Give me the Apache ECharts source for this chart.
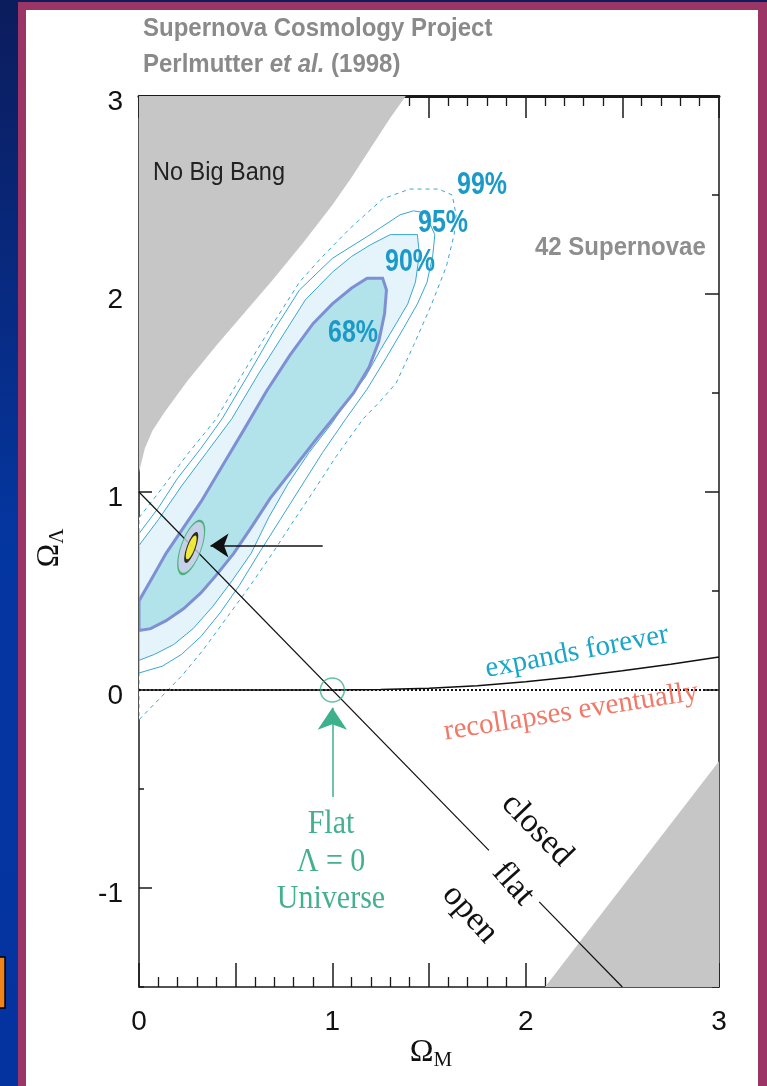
<!DOCTYPE html>
<html><head><meta charset="utf-8">
<script src="https://cdn.jsdelivr.net/npm/echarts@6/dist/echarts.min.js"></script>
<style>html,body{margin:0;padding:0;background:#0a2a8a;overflow:hidden}#c{width:767px;height:1086px}</style>
</head><body><div id="c"></div>
<script>
// ---- data ----
const xLabelTicks = [0, 1, 2, 3];
const yLabelTicks = [-1, 0, 1, 2, 3];
const yAllTicks = [-1.5, -1, -0.5, 0, 0.5, 1, 1.5, 2, 2.5, 3];

const noBigBang = [[0,3],[0,1.10],[0.03,1.22],[0.07,1.31],[0.13,1.40],[0.25,1.56],[0.40,1.74],[0.55,1.91],[0.69,2.07],[0.85,2.26],[1.0,2.45],[1.1,2.59],[1.2,2.74],[1.3,2.89],[1.38,3.0]];
const noTurnaround = [[2.10,-1.5],[2.4,-1.12],[2.7,-0.74],[3.0,-0.36],[3.0,-1.5]];

const contour99 = [[0,0.87],[0.12,1.02],[0.25,1.19],[0.40,1.37],[0.55,1.62],[0.70,1.86],[0.83,2.06],[0.94,2.18],[1.09,2.33],[1.26,2.48],[1.40,2.53],[1.55,2.53],[1.62,2.50],[1.64,2.40],[1.63,2.30],[1.59,2.14],[1.51,1.94],[1.42,1.74],[1.33,1.55],[1.24,1.45],[1.16,1.37],[1.02,1.18],[0.90,1.00],[0.79,0.84],[0.69,0.69],[0.57,0.52],[0.45,0.36],[0.33,0.20],[0.22,0.07],[0.12,-0.03],[0.05,-0.10],[0,-0.15]];
const contour95 = [[0,0.79],[0.10,0.92],[0.20,1.07],[0.32,1.22],[0.43,1.37],[0.57,1.60],[0.70,1.82],[0.83,2.02],[1.00,2.18],[1.18,2.29],[1.35,2.40],[1.42,2.42],[1.48,2.41],[1.53,2.30],[1.52,2.20],[1.49,2.06],[1.44,1.95],[1.37,1.83],[1.28,1.68],[1.18,1.52],[1.07,1.37],[0.95,1.20],[0.84,1.03],[0.73,0.86],[0.62,0.69],[0.52,0.53],[0.42,0.39],[0.32,0.27],[0.22,0.18],[0.12,0.12],[0,0.086]];
const contour90 = [[0,0.73],[0.10,0.86],[0.22,1.03],[0.35,1.20],[0.48,1.37],[0.62,1.60],[0.75,1.80],[0.86,1.97],[1.00,2.11],[1.10,2.19],[1.20,2.25],[1.30,2.30],[1.44,2.30],[1.45,2.20],[1.43,2.06],[1.39,1.95],[1.33,1.85],[1.25,1.72],[1.17,1.58],[1.06,1.44],[1.00,1.35],[0.88,1.20],[0.77,1.04],[0.67,0.87],[0.58,0.69],[0.48,0.55],[0.38,0.42],[0.28,0.31],[0.18,0.23],[0.08,0.18],[0,0.15]];
const contour68 = [[0,0.45],[0.07,0.57],[0.14,0.69],[0.23,0.82],[0.32,0.95],[0.43,1.13],[0.54,1.31],[0.66,1.51],[0.78,1.69],[0.90,1.85],[1.00,1.95],[1.10,2.03],[1.18,2.08],[1.26,2.08],[1.28,2.02],[1.27,1.90],[1.24,1.76],[1.19,1.63],[1.11,1.50],[1.02,1.39],[0.92,1.27],[0.80,1.12],[0.68,0.97],[0.58,0.82],[0.49,0.69],[0.40,0.58],[0.32,0.49],[0.23,0.41],[0.14,0.35],[0.06,0.31],[0,0.30]];

const flatLineA = [[0,1],[1.81,-0.81]];
const flatLineB = [[2.07,-1.07],[2.5,-1.5]];
const zeroLine = [[0,0],[3,0]];
const expandBoundary = [[0,0],[1.0,0],[1.25,0.002],[1.5,0.009],[1.75,0.022],[2.0,0.042],[2.25,0.067],[2.5,0.097],[2.75,0.13],[3.0,0.167]];
const bestFit = [0.27, 0.72];
const bestArrow = [[0.95,0.73],[0.37,0.73]];
const flatPoint = [1.0, 0.0];
const flatArrow = [[1.0,-0.54],[1.0,-0.09]];

// ---- chart ----
const chart = echarts.init(document.getElementById('c'), null, {renderer:'canvas'});
function poly(name, pts, style, z){
  return {type:'custom', name, clip:true, z, coordinateSystem:'cartesian2d', xAxisIndex:0, yAxisIndex:0,
    data:[[pts[0][0], pts[0][1]]],
    renderItem:(params, api)=>({type:'polygon', shape:{points: pts.map(p=>api.coord(p))}, style: style})
  };
}
const K = '#1a1a1a';
const sans = 'Liberation Sans, Arial, sans-serif';
const serif = 'Liberation Serif, Times New Roman, serif';
const blueLine = '#3aa6d4';
const G = {left:139, right:48, top:96, bottom:99, containLabel:false};

const option = {
  animation:false,
  backgroundColor:'transparent',
  grid:[Object.assign({}, G), Object.assign({}, G)],
  xAxis:[
    {type:'value', gridIndex:0, position:'bottom', min:0, max:3, interval:0.5,
     axisLine:{show:true,onZero:false,lineStyle:{color:K,width:1.5}},
     axisTick:{show:true,inside:true,length:24,lineStyle:{color:K,width:1.5}},
     minorTick:{show:true,splitNumber:5,length:10,lineStyle:{color:K,width:1.3}},
     splitLine:{show:false}, minorSplitLine:{show:false},
     axisLabel:{show:true, customValues:xLabelTicks, margin:21, fontSize:28, color:'#111', fontFamily:sans}},
    {type:'value', gridIndex:0, position:'top', min:0, max:3, interval:0.5,
     axisLine:{show:true,onZero:false,lineStyle:{color:K,width:3}},
     axisTick:{show:true,inside:true,length:22,lineStyle:{color:K,width:1.5}},
     minorTick:{show:true,splitNumber:5,length:10,lineStyle:{color:K,width:1.3}},
     splitLine:{show:false}, minorSplitLine:{show:false}, axisLabel:{show:false}},
    {type:'value', gridIndex:1, position:'bottom', min:0, max:3, show:false}
  ],
  yAxis:[
    {type:'value', gridIndex:0, position:'left', min:-1.5, max:3,
     axisLine:{show:true,onZero:false,lineStyle:{color:K,width:1.5}},
     axisTick:{show:true,inside:true,length:5,customValues:yAllTicks,lineStyle:{color:K,width:1.5}},
     splitLine:{show:false},
     axisLabel:{show:true, customValues:yLabelTicks, margin:16, formatter:'{a|{value}}',
       rich:{a:{fontSize:28, color:'#111', fontFamily:sans, padding:[12,0,0,0]}}}},
    {type:'value', gridIndex:0, position:'right', min:-1.5, max:3,
     axisLine:{show:true,onZero:false,lineStyle:{color:K,width:1.5}},
     axisTick:{show:true,inside:true,length:7,customValues:yAllTicks,lineStyle:{color:K,width:1.5}},
     splitLine:{show:false}, axisLabel:{show:false}},
    {type:'value', gridIndex:1, position:'left', min:-1.5, max:3,
     axisLine:{show:false}, axisTick:{show:true,inside:true,length:13,customValues:yLabelTicks,lineStyle:{color:K,width:1.5}},
     splitLine:{show:false}, axisLabel:{show:false}},
    {type:'value', gridIndex:1, position:'right', min:-1.5, max:3,
     axisLine:{show:false}, axisTick:{show:true,inside:true,length:14,customValues:yLabelTicks,lineStyle:{color:K,width:1.5}},
     splitLine:{show:false}, axisLabel:{show:false}}
  ],
  series:[
    poly('noBigBang', noBigBang, {fill:'#c6c6c6', stroke:null}, 1),
    poly('noTurnaround', noTurnaround, {fill:'#c6c6c6', stroke:null}, 1),
    poly('c99', contour99, {fill:'#ffffff', stroke:blueLine, lineWidth:1, lineDash:[4,4]}, 2),
    poly('c95', contour95, {fill:'#ffffff', stroke:blueLine, lineWidth:1}, 3),
    poly('c90', contour90, {fill:'#e4f4fa', stroke:blueLine, lineWidth:1}, 4),
    poly('c68', contour68, {fill:'#b2e2ea', stroke:'#7f8fd4', lineWidth:3}, 5),
    {type:'line', name:'zero', data:zeroLine, showSymbol:false, z:6, lineStyle:{color:'#111', width:2, type:[2,2]}},
    {type:'line', name:'expand', data:expandBoundary, showSymbol:false, z:6, lineStyle:{color:'#111', width:1.5}},
    {type:'line', name:'flatA', data:flatLineA, showSymbol:false, z:6, lineStyle:{color:'#111', width:1.2}},
    {type:'line', name:'flatB', data:flatLineB, showSymbol:false, z:6, lineStyle:{color:'#111', width:1.2}},
    {type:'lines', coordinateSystem:'cartesian2d', z:7, symbol:['none','arrow'], symbolSize:[14,18],
      lineStyle:{color:'#111', width:1.5, opacity:1}, data:[{coords:bestArrow}]},
    {type:'lines', coordinateSystem:'cartesian2d', z:7, symbol:['none','arrow'], symbolSize:[12,22],
      lineStyle:{color:'#3db08c', width:1.5, opacity:1}, data:[{coords:flatArrow}]},
    {type:'scatter', z:8, data:[flatPoint], symbol:'circle', symbolSize:24,
      itemStyle:{color:'rgba(0,0,0,0)', borderColor:'#3db08c', borderWidth:1.5}},
    {type:'scatter', z:8, data:[bestFit], symbol:'circle', symbolSize:[20,56], symbolRotate:-20,
      itemStyle:{color:'#c9cde8', borderColor:'#2ea65e', borderWidth:1.5}},
    {type:'scatter', z:9, data:[bestFit], symbol:'circle', symbolSize:[8,29], symbolRotate:-20,
      itemStyle:{color:'#f7ef10', borderColor:'#000', borderWidth:2}}
  ],
  graphic:[
    {type:'rect', z:-100, silent:true, shape:{x:0,y:0,width:767,height:1086},
     style:{fill:new echarts.graphic.LinearGradient(0,0,0,1,[{offset:0,color:'#0c1c5c'},{offset:0.5,color:'#0436a0'},{offset:1,color:'#0433a0'}])}},
    {type:'rect', z:-99, silent:true, shape:{x:18,y:2,width:749,height:1084}, style:{fill:'#9b3566'}},
    {type:'rect', z:-98, silent:true, shape:{x:26,y:10,width:732,height:1076}, style:{fill:'#ffffff'}},
    {type:'rect', z:-97, silent:true, shape:{x:-3,y:957,width:8,height:51}, style:{fill:'#f08418', stroke:'#000', lineWidth:1.5}},
    {type:'text', z:100, x:143, y:29, scaleY:1.1, style:{text:'Supernova Cosmology Project', font:'bold 24px '+sans, fill:'#8a8a8a', verticalAlign:'middle'}},
    {type:'text', z:100, x:143, y:65, scaleY:1.1, style:{text:'{a|Perlmutter }{b|et al.}{a| (1998)}', verticalAlign:'middle',
      rich:{a:{font:'bold 24px '+sans, fill:'#8a8a8a'}, b:{font:'italic bold 24px '+sans, fill:'#8a8a8a'}}}},
    {type:'text', z:100, x:153, y:173, scaleY:1.12, style:{text:'No Big Bang', font:'23.5px '+sans, fill:'#222', verticalAlign:'middle'}},
    {type:'text', z:100, x:535, y:248, scaleY:1.1, style:{text:'42 Supernovae', font:'bold 24px '+sans, fill:'#8e8e8e', verticalAlign:'middle'}},
    {type:'text', z:100, x:482, y:185, scaleY:1.25, style:{text:'99%', font:'bold 25px '+sans, fill:'#1b9ac9', align:'center', verticalAlign:'middle'}},
    {type:'text', z:100, x:443, y:223, scaleY:1.25, style:{text:'95%', font:'bold 25px '+sans, fill:'#1b9ac9', align:'center', verticalAlign:'middle'}},
    {type:'text', z:100, x:410, y:262, scaleY:1.25, style:{text:'90%', font:'bold 25px '+sans, fill:'#1b9ac9', align:'center', verticalAlign:'middle'}},
    {type:'text', z:100, x:353, y:333, scaleY:1.25, style:{text:'68%', font:'bold 25px '+sans, fill:'#1b9ac9', align:'center', verticalAlign:'middle'}},
    {type:'text', z:100, x:577, y:652, rotation:0.19, style:{text:'expands forever', font:'29px '+serif, fill:'#1aa6c6', align:'center', verticalAlign:'middle'}},
    {type:'text', z:100, x:571, y:712, rotation:0.157, style:{text:'recollapses eventually', font:'29px '+serif, fill:'#f27868', align:'center', verticalAlign:'middle'}},
    {type:'text', z:100, x:537, y:830, rotation:-0.80, style:{text:'closed', font:'34px '+serif, fill:'#111', align:'center', verticalAlign:'middle'}},
    {type:'text', z:100, x:513, y:884, rotation:-0.84, style:{text:'flat', font:'34px '+serif, fill:'#111', align:'center', verticalAlign:'middle'}},
    {type:'text', z:100, x:470, y:914, rotation:-0.84, style:{text:'open', font:'34px '+serif, fill:'#111', align:'center', verticalAlign:'middle'}},
    {type:'text', z:100, x:331, y:824, scaleY:1.1, style:{text:'Flat', font:'30px '+serif, fill:'#45b08f', align:'center', verticalAlign:'middle'}},
    {type:'text', z:100, x:331, y:862, scaleY:1.1, style:{text:'Λ = 0', font:'30px '+serif, fill:'#45b08f', align:'center', verticalAlign:'middle'}},
    {type:'text', z:100, x:331, y:899, scaleY:1.1, style:{text:'Universe', font:'30px '+serif, fill:'#45b08f', align:'center', verticalAlign:'middle'}},
    {type:'text', z:100, x:431, y:1053, style:{text:'{o|Ω}{m|M}', align:'center', verticalAlign:'middle',
      rich:{o:{font:'32px '+serif, fill:'#111'}, m:{font:'21px '+serif, fill:'#111', padding:[14,0,0,0]}}}},
    {type:'text', z:100, x:50, y:548, rotation:Math.PI/2, style:{text:'{o|Ω}{m|Λ}', align:'center', verticalAlign:'middle',
      rich:{o:{font:'32px '+serif, fill:'#111'}, m:{font:'21px '+serif, fill:'#111', padding:[14,0,0,0]}}}}
  ]
};
chart.setOption(option);
</script></body></html>
